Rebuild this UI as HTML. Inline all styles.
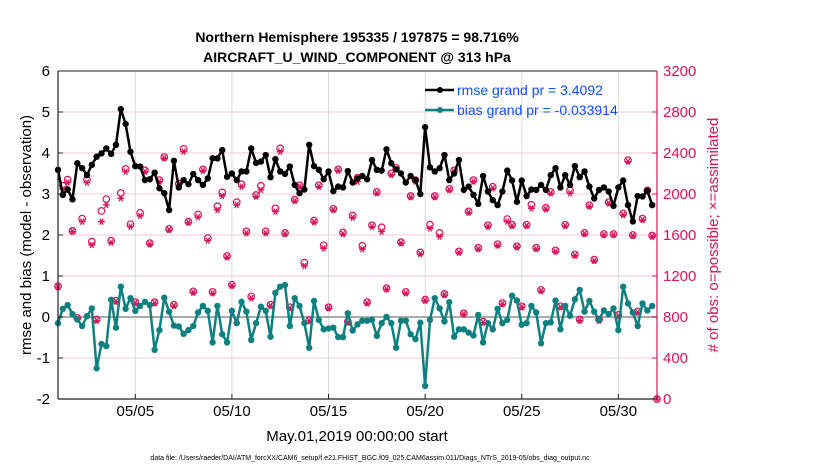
<!DOCTYPE html>
<html><head><meta charset="utf-8"><style>
html,body{margin:0;padding:0;background:#fff;}
svg{display:block;font-family:"Liberation Sans",Arial,sans-serif;}
</style></head><body>
<svg id="chart" width="830" height="470" viewBox="0 0 830 470">
<text x="357" y="42" text-anchor="middle" font-size="14" font-weight="bold">Northern Hemisphere 195335 / 197875 = 98.716%</text>
<text x="357" y="62" text-anchor="middle" font-size="14" font-weight="bold">AIRCRAFT_U_WIND_COMPONENT @ 313 hPa</text>
<g id="grid"></g>
<g id="marks"></g>
<g id="axes"></g>
<text transform="translate(31,235) rotate(-90)" text-anchor="middle" font-size="15">rmse and bias (model - observation)</text>
<text transform="translate(718,235) rotate(-90)" text-anchor="middle" font-size="15" fill="#d4145a"># of obs: o=possible; ×=assimilated</text>
<text x="357" y="441" text-anchor="middle" font-size="15">May.01,2019 00:00:00 start</text>
<text x="370" y="460" text-anchor="middle" font-size="7">data file: /Users/raeder/DAI/ATM_forcXX/CAM6_setup/f.e21.FHIST_BGC.f09_025.CAM6assim.011/Diags_NTrS_2019-05/obs_diag_output.nc</text>
<g>
<line x1="425" y1="90" x2="454" y2="90" stroke="#000" stroke-width="2.5"/>
<circle cx="440" cy="90" r="3" fill="#000"/>
<text x="457" y="95" font-size="14" fill="#0a50ff">rmse grand pr = 3.4092</text>
<line x1="425" y1="110" x2="454" y2="110" stroke="#0f8080" stroke-width="2.5"/>
<circle cx="440" cy="110" r="3" fill="#0f8080"/>
<text x="457" y="115" font-size="14" fill="#0a50ff">bias grand pr = -0.033914</text>
</g>
</svg>
<script>
const rmse=[3.59,2.98,3.11,2.87,3.75,3.63,3.46,3.71,3.91,3.99,4.11,3.98,4.20,5.07,4.71,4.03,3.68,3.67,3.34,3.36,3.52,3.14,3.02,2.61,3.81,3.16,3.34,3.24,3.49,3.34,3.22,3.38,3.87,3.87,4.07,3.42,3.50,3.34,3.55,3.55,4.11,3.76,3.79,3.95,3.41,3.85,3.55,3.49,3.67,3.22,3.02,3.11,4.20,3.68,3.59,3.36,3.55,3.07,3.18,3.16,3.56,3.28,3.38,3.44,
3.36,3.83,3.59,3.57,4.09,3.75,3.60,3.50,3.28,3.44,3.34,3.00,4.63,3.65,3.55,3.63,3.95,3.34,3.50,3.83,3.10,3.18,2.98,2.76,3.44,3.06,2.85,2.73,3.06,3.57,3.33,2.81,3.33,2.95,3.11,3.10,3.22,3.10,3.46,3.63,3.16,3.46,3.22,3.68,3.41,3.55,3.18,2.89,3.10,3.16,3.06,2.71,3.16,3.33,2.73,2.33,2.95,2.94,3.08,2.73];
const bias=[-0.15,0.2,0.29,0.07,-0.06,-0.22,0.02,0.21,-1.25,-0.66,-0.71,0.42,-0.26,0.74,0.2,0.46,0.15,0.27,0.37,0.29,-0.80,-0.32,0.47,0.13,-0.21,-0.23,-0.41,-0.32,-0.22,0.11,0.27,0.15,-0.62,0.27,-0.42,-0.62,0.15,-0.15,0.37,0.13,-0.56,-0.15,0.25,0.15,-0.48,0.59,0.74,0.78,-0.22,0.46,0.27,-0.15,-0.75,0.39,-0.07,-0.30,-0.28,-0.26,-0.49,-0.49,0.09,-0.33,-0.18,-0.09,
-0.09,-0.07,-0.46,-0.15,0.0,-0.15,-0.75,-0.09,-0.09,-0.42,-0.54,-0.14,-1.68,-0.07,0.46,0.21,-0.11,0.36,-0.48,-0.30,-0.30,-0.38,-0.45,0.05,-0.62,-0.15,-0.30,0.2,-0.15,-0.07,0.52,0.40,-0.19,-0.15,0.27,0.11,-0.64,-0.15,-0.13,0.40,-0.30,0.27,0.03,0.43,0.66,0.13,0.39,0.13,-0.07,0.16,0.07,0.21,-0.32,0.74,0.33,0.11,-0.22,0.33,0.16,0.27];
const assimilated=[1090,2046,2111,1633,778,1730,2111,1503,765,1730,1893,1526,950,1958,2218,1682,934,1786,2218,1509,934,2121,2348,1649,908,2088,2413,1721,1038,1773,2228,1545,1031,1844,1981,1382,1103,1893,2072,1617,983,1974,2039,1617,908,1828,2413,1610,885,1932,2072,1298,761,1724,2072,1470,885,1844,2228,1610,745,1770,2121,1461,
934,1682,2007,1633,1070,2186,2241,1519,1031,1968,2121,1415,960,1665,1968,1584,1015,2039,2218,1428,826,1818,2121,1461,745,1682,2056,1496,924,1730,1688,1480,895,1688,1860,1464,1054,1851,2007,1438,895,1688,2007,1399,765,1610,1877,1347,765,1600,1909,1600,810,1796,2316,1591,843,1747,2023,1584,0];
const possible=[1100,2080,2140,1640,790,1760,2140,1535,775,1835,1950,1545,960,2010,2245,1705,945,1815,2230,1520,945,2135,2360,1660,920,2100,2440,1730,1050,1800,2240,1570,1045,1880,2015,1395,1115,1920,2095,1635,1000,1990,2080,1635,920,1860,2445,1620,895,1945,2085,1330,770,1740,2085,1500,895,1855,2240,1625,755,1790,2160,1495,
945,1695,2020,1675,1080,2200,2255,1530,1045,1980,2135,1430,970,1700,1980,1620,1025,2050,2230,1440,835,1830,2135,1475,755,1695,2070,1510,935,1755,1700,1490,905,1700,1895,1475,1065,1865,2020,1450,905,1700,2035,1410,775,1620,1890,1360,775,1610,1920,1610,820,1810,2330,1600,855,1760,2035,1595,0];
const leftTicks=[-2,-1,0,1,2,3,4,5,6];
const rightTicks=[0,400,800,1200,1600,2000,2400,2800,3200];
const dayTicks=[4,9,14,19,24,29];
const dayLabels=["05/05","05/10","05/15","05/20","05/25","05/30"];

const X0=58,X1=657,Y0=71,Y1=399,DAYS=31;
const xs=d=>X0+(X1-X0)*d/DAYS;
const yl=v=>Y1-(v+2)/8*(Y1-Y0);
const yr=v=>Y1-v/3200*(Y1-Y0);
const NS="http://www.w3.org/2000/svg";
function mk(tag,attrs,parent){const e=document.createElementNS(NS,tag);for(const k in attrs)e.setAttribute(k,attrs[k]);parent.appendChild(e);return e;}
const grid=document.getElementById('grid'),marks=document.getElementById('marks'),axes=document.getElementById('axes');
const PINK="#d4145a";
leftTicks.forEach(t=>{
  if(t>-2&&t<6){const g=mk('line',{x1:X0,x2:X1,y1:yl(t),y2:yl(t),stroke:'#f0c8d6','stroke-width':1},grid);
  
  }
  const l=mk('text',{x:X0-8,y:yl(t)+5,'text-anchor':'end','font-size':15},axes);l.textContent=t;
  
  
  mk('line',{x1:X0,x2:X0+5,y1:yl(t),y2:yl(t),stroke:'#222'},axes);
});
rightTicks.forEach(t=>{
  const l=mk('text',{x:X1+6,y:yr(t)+5,'font-size':15,fill:PINK},axes);l.textContent=t;
  
  
  mk('line',{x1:X1-5,x2:X1,y1:yr(t),y2:yr(t),stroke:PINK},axes);
});
dayTicks.forEach((d,i)=>{
  const g=mk('line',{x1:xs(d),x2:xs(d),y1:Y0,y2:Y1,stroke:'#dcdcdc'},grid);
  
  
  mk('line',{x1:xs(d),x2:xs(d),y1:Y1,y2:Y1-5,stroke:'#222'},axes);
  const l=mk('text',{x:xs(d),y:416,'text-anchor':'middle','font-size':15},axes);l.textContent=dayLabels[i];
  
  
});
const zl=mk('line',{x1:X0,x2:X1,y1:yl(0),y2:yl(0),stroke:'#aaaaaa','stroke-width':2},grid);


// obs counts
possible.forEach((v,i)=>{
  const x=xs(i*0.25);
  const c=mk('circle',{cx:x,cy:yr(v),r:3.3,fill:'none',stroke:PINK,'stroke-width':1.2},marks);
  
  
  const y=yr(assimilated[i]),r=3.5;
  const d=`M${x-r},${y}H${x+r}M${x-r*0.5},${y-r*0.87}L${x+r*0.5},${y+r*0.87}M${x+r*0.5},${y-r*0.87}L${x-r*0.5},${y+r*0.87}`;
  const s=mk('path',{d:d,stroke:PINK,'stroke-width':1.3,fill:'none'},marks);
  
  
});
function series(arr,col,name){
  const p=arr.map((v,i)=>xs(i*0.25).toFixed(1)+','+yl(v).toFixed(1)).join(' ');
  const pl=mk('polyline',{points:p,fill:'none',stroke:col,'stroke-width':2.5,'stroke-linejoin':'round'},marks);
  
  
  arr.forEach((v,i)=>{const c=mk('circle',{cx:xs(i*0.25),cy:yl(v),r:3.2,fill:col},marks);
    
    });
}
series(bias,'#0f8080','bias');
series(rmse,'#000','rmse');
mk('line',{x1:X0,x2:X0,y1:Y0,y2:Y1,stroke:'#222','stroke-width':1.2},axes);
mk('line',{x1:X0,x2:X1,y1:Y1,y2:Y1,stroke:'#222','stroke-width':1.2},axes);
mk('line',{x1:X0,x2:X1,y1:Y0,y2:Y0,stroke:'#222','stroke-width':1},axes);
mk('line',{x1:X1,x2:X1,y1:Y0,y2:Y1,stroke:PINK,'stroke-width':1.2},axes);
</script>
</body></html>
